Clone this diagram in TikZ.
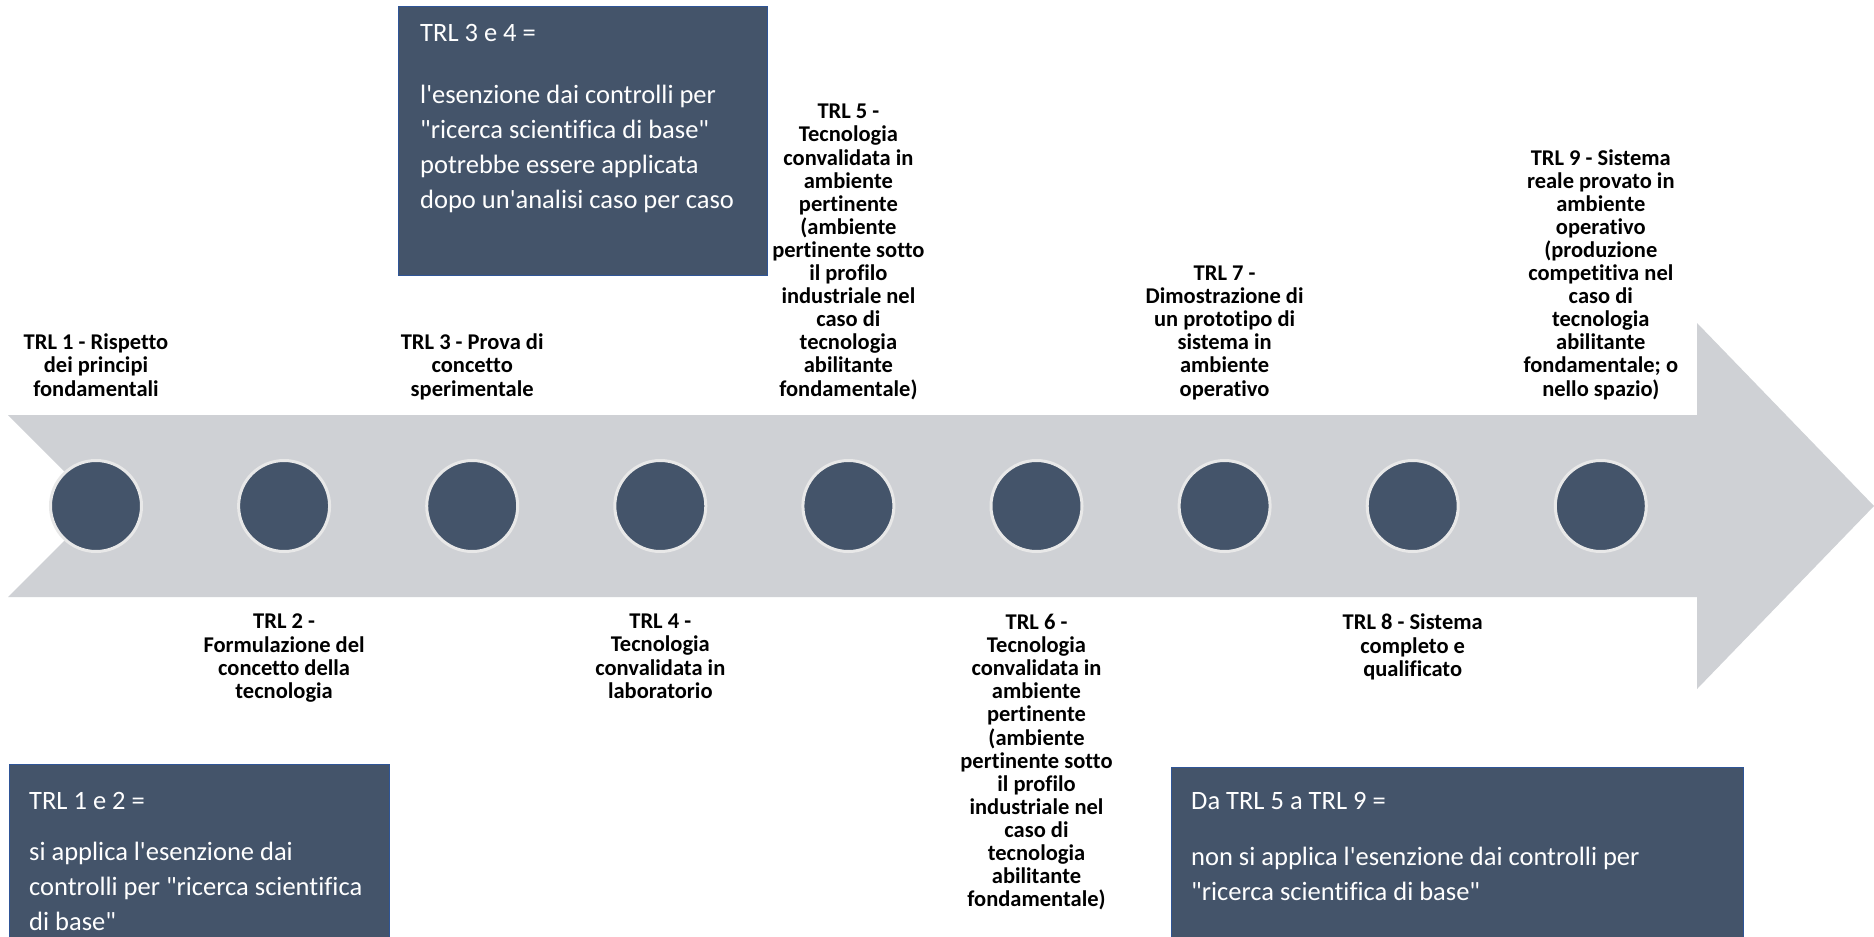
\documentclass[tikz,border=0pt]{standalone}
\usepackage{fontspec}
\setmainfont{Carlito}[Ligatures={TeXOff,NoCommon}]
\definecolor{slate}{RGB}{68,84,106}
\definecolor{arrowgray}{RGB}{207,209,213}
\definecolor{ringgray}{RGB}{232,232,232}
\definecolor{boxedge}{RGB}{47,85,151}
\tikzset{
  dot/.style={circle, inner sep=0pt, minimum size=91pt, fill=slate, draw=ringgray, line width=3pt},
  lab/.style={align=center, inner sep=0pt, font=\fontsize{22.5pt}{23.1pt}\selectfont\bfseries, text=black},
  uplab/.style={lab, anchor=base},
  downlab/.style={lab, anchor=north},
  infobox/.style={fill=slate, draw=boxedge, line width=1.2pt, inner sep=0pt, anchor=north west},
  infotext/.style={align=left, inner sep=0pt, anchor=north west, text=white, font=\fontsize{26.5pt}{34.8pt}\selectfont},
}
\begin{document}
\begin{tikzpicture}[x=1pt,y=-1pt]
\useasboundingbox (0,0) rectangle (1874,937);
\fill[white] (0,0) rectangle (1874,937);

% big arrow
\fill[arrowgray] (8,415) -- (1697,415) -- (1697,323) -- (1874,506) -- (1697,689)
  -- (1697,597) -- (8,597) -- (99,506) -- cycle;

% circles
\foreach \i in {1,...,9} {
  \node[dot] (c\i) at ({96+(\i-1)*188.1},506) {};
}

% labels above
\node[uplab] (l1) at ([yshift=110pt]c1.center) {TRL 1 - Rispetto\\dei principi\\fondamentali};
\node[uplab] (l3) at ([yshift=110pt]c3.center) {TRL 3 - Prova di\\concetto\\sperimentale};
\node[uplab] (l5) at ([yshift=110pt]c5.center) {TRL 5 -\\Tecnologia\\convalidata in\\ambiente\\pertinente\\(ambiente\\pertinente sotto\\il profilo\\industriale nel\\caso di\\tecnologia\\abilitante\\fondamentale)};
\node[uplab] (l7) at ([yshift=110pt]c7.center) {TRL 7 -\\Dimostrazione di\\un prototipo di\\sistema in\\ambiente\\operativo};
\node[uplab] (l9) at ([yshift=110pt]c9.center) {TRL 9 - Sistema\\reale provato in\\ambiente\\operativo\\(produzione\\competitiva nel\\caso di\\tecnologia\\abilitante\\fondamentale; o\\nello spazio)};

% labels below
\node[downlab] (l2) at ([yshift=-108pt]c2.center) {TRL 2 -\\Formulazione del\\concetto della\\tecnologia};
\node[downlab] (l4) at ([yshift=-108pt]c4.center) {TRL 4 -\\Tecnologia\\convalidata in\\laboratorio};
\node[downlab] (l6) at ([yshift=-108pt]c6.center) {TRL 6 -\\Tecnologia\\convalidata in\\ambiente\\pertinente\\(ambiente\\pertinente sotto\\il profilo\\industriale nel\\caso di\\tecnologia\\abilitante\\fondamentale)};
\node[downlab] (l8) at ([yshift=-108pt]c8.center) {TRL 8 - Sistema\\completo e\\qualificato};

% info boxes
\node[infobox, minimum width=369pt, minimum height=269pt] (box34) at (398,6) {};
\node[infotext] (txt34) at ([xshift=22pt,yshift=-18pt]box34.north west)
  {TRL 3 e 4 =\\[27.5pt]l'esenzione dai controlli per\\"ricerca scientifica di base"\\potrebbe essere applicata\\dopo un'analisi caso per caso};

\node[infobox, minimum width=380pt, minimum height=200pt] (box12) at (9,764) {};
\node[infotext] (txt12) at ([xshift=20pt,yshift=-28pt]box12.north west)
  {TRL 1 e 2 =\\[16.7pt]si applica l'esenzione dai\\controlli per "ricerca scientifica\\di base"};

\node[infobox, minimum width=572pt, minimum height=200pt] (box59) at (1171,767) {};
\node[infotext] (txt59) at ([xshift=20pt,yshift=-25pt]box59.north west)
  {Da TRL 5 a TRL 9 =\\[21.7pt]non si applica l'esenzione dai controlli per\\"ricerca scientifica di base"};
\end{tikzpicture}
\end{document}
